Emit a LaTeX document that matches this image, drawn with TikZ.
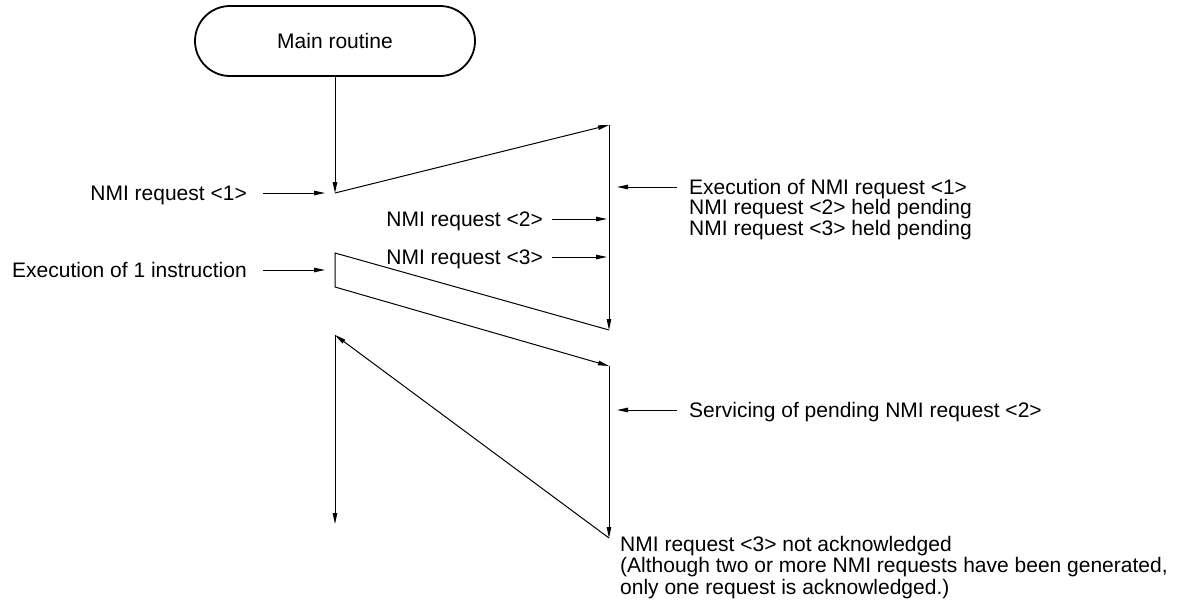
\documentclass[tikz,border=0pt]{standalone}
\usepackage{fontspec}
\setmainfont{Liberation Sans}
\usetikzlibrary{arrows.meta}
\tikzset{
  term/.style={draw, line width=1.8pt, rounded corners=35pt, minimum width=280pt, minimum height=70pt, inner sep=0pt},
  flow/.style={line width=1pt, -{Triangle[length=11pt,width=4.5pt]}},
  lbl/.style={inner sep=0pt, text height=15pt, text depth=0pt},
  multi/.style={inner sep=0pt, align=left},
}
\begin{document}
\begin{tikzpicture}[x=1pt,y=-1pt, font=\fontsize{21}{21}\selectfont]
\useasboundingbox (0,0) rectangle (1180,608);
\node[term] (main) at (335,41) {Main routine};
\coordinate (a1) at (335,193);
\coordinate (b1) at (609,125);
\coordinate (b2) at (609,330);
\coordinate (a2) at (335,253);
\coordinate (a3) at (335,287);
\coordinate (b3) at (609,366);
\coordinate (b4) at (609,538);
\coordinate (a4) at (335,335);
\coordinate (a5) at (335,524);
\draw[flow] (main.south) -- (a1);
\draw[flow] (a1) -- (b1);
\draw[flow] (b1) -- (b2);
\draw[flow] (b2) -- (a2) -- (a3) -- (b3);
\draw[flow] (b3) -- (b4);
\draw[flow] (b4) -- (a4);
\draw[flow] (a4) -- (a5);
% left inputs
\node[lbl, anchor=east] (t1) at (247,193) {NMI request \textless1\textgreater};
\coordinate (t1s) at (263,193); \coordinate (t1e) at (325,193);
\draw[flow] (t1s) -- (t1e);
\node[lbl, anchor=east] (t4) at (247,270) {Execution of 1 instruction};
\coordinate (t4s) at (263,270); \coordinate (t4e) at (325,270);
\draw[flow] (t4s) -- (t4e);
\node[lbl, anchor=east] (t2) at (543,219) {NMI request \textless2\textgreater};
\coordinate (t2s) at (552,219); \coordinate (t2e) at (607,219);
\draw[flow] (t2s) -- (t2e);
\node[lbl, anchor=east] (t3) at (543,257) {NMI request \textless3\textgreater};
\coordinate (t3s) at (552,257); \coordinate (t3e) at (607,257);
\draw[flow] (t3s) -- (t3e);
% right labels
\node[multi, anchor=north west, font=\fontsize{21}{20.5}\selectfont] (r1) at (689,179) {Execution of NMI request \textless1\textgreater\\NMI request \textless2\textgreater{} held pending\\NMI request \textless3\textgreater{} held pending};
\coordinate (r1s) at (677,187); \coordinate (r1e) at (617,187);
\draw[flow] (r1s) -- (r1e);
\node[lbl, anchor=west] (r2) at (689,410) {Servicing of pending NMI request \textless2\textgreater};
\coordinate (r2s) at (677,410); \coordinate (r2e) at (617,410);
\draw[flow] (r2s) -- (r2e);
\node[multi, anchor=north west, font=\fontsize{21}{21.5}\selectfont] (r3) at (620,536) {NMI request \textless3\textgreater{} not acknowledged\\(Although two or more NMI requests have been generated,\\only one request is acknowledged.)};
\end{tikzpicture}
\end{document}
